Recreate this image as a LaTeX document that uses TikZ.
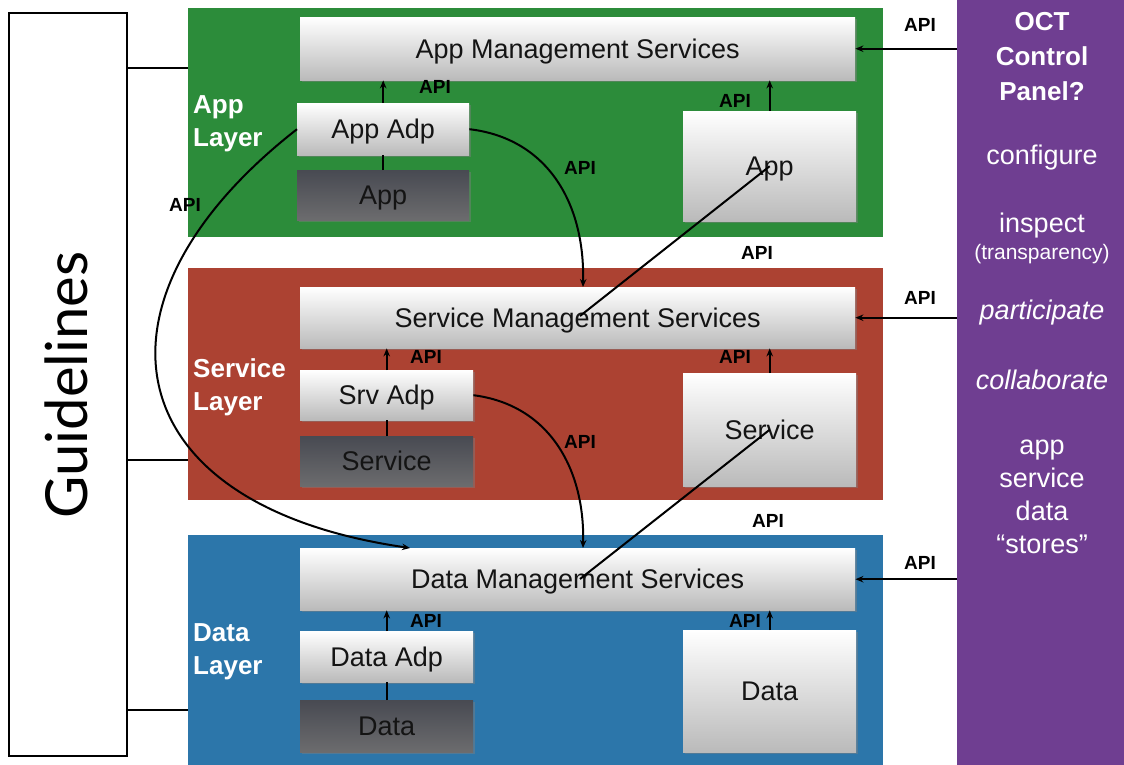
\documentclass[tikz,border=0pt]{standalone}
\usepackage{fontspec}
\setmainfont{Liberation Sans}
\newfontfamily\guidefont{Lato}
\usetikzlibrary{shadows,arrows.meta}

\definecolor{appgreen}{RGB}{44,140,58}
\definecolor{srvred}{RGB}{172,66,50}
\definecolor{datablue}{RGB}{44,118,170}
\definecolor{octpurple}{RGB}{111,62,145}
\definecolor{darktop}{RGB}{72,74,82}
\definecolor{darkbot}{RGB}{108,108,110}
\definecolor{lightbot}{RGB}{186,186,186}
\definecolor{ink}{RGB}{20,20,20}

\tikzset{
  panel/.style={draw=none, inner sep=0pt, anchor=north west},
  lightbox/.style={draw=none, inner sep=0pt, anchor=north west, text depth=0pt,
    top color=white, middle color=white!93!black, bottom color=lightbot,
    drop shadow={shadow xshift=1.5pt, shadow yshift=-1.5pt, opacity=0.45},
    text=ink, font=\fontsize{27}{30}\selectfont},
  darkbox/.style={draw=none, inner sep=0pt, anchor=north west, text depth=0pt,
    top color=darktop, bottom color=darkbot,
    drop shadow={shadow xshift=1.5pt, shadow yshift=-1.5pt, opacity=0.45},
    text=ink, font=\fontsize{27}{30}\selectfont},
  layerlabel/.style={anchor=west, align=left, text=white, inner sep=0pt,
    font=\bfseries\fontsize{26}{33}\selectfont},
  api/.style={inner sep=0pt, text=black, font=\bfseries\fontsize{19}{20}\selectfont},
  octtext/.style={inner sep=0pt, text=white, align=center, font=\fontsize{27}{33}\selectfont},
  link/.style={line width=2pt, -{Stealth[length=8pt,width=6.5pt]}},
  plainlink/.style={line width=2pt},
  tick/.style={line width=1.8pt},
}

\begin{document}
\begin{tikzpicture}[x=1pt, y=-1pt]
\useasboundingbox (0,0) rectangle (1124,765);
\fill[white] (0,0) rectangle (1124,765);

% ---------- guidelines column ----------
\node[draw=black, line width=2pt, inner sep=0pt, anchor=north west,
      minimum width=118pt, minimum height=743pt] (guide) at (8,12) {};
\node[rotate=90, inner sep=0pt, font=\guidefont\fontsize{58}{60}\selectfont] (guidetext) at (66,385) {Guidelines};

% ---------- layer panels ----------
\node[panel, fill=appgreen, minimum width=695pt, minimum height=229pt] (applayer) at (188,8) {};
\node[panel, fill=srvred, minimum width=695pt, minimum height=232pt] (srvlayer) at (188,268) {};
\node[panel, fill=datablue, minimum width=695pt, minimum height=232pt] (datalayer) at (188,535) {};
\node[panel, fill=octpurple, minimum width=167pt, minimum height=765pt] (oct) at (957,0) {};

\node[layerlabel] (applbl) at (193,124) {App\\Layer};
\node[layerlabel] (srvlbl) at (193,387) {Service\\Layer};
\node[layerlabel] (datalbl) at (193,652) {Data\\Layer};

% ticks from the guidelines column to each layer
\draw[tick] (guide.east |- 0,68) -- (applayer.west |- 0,68);
\draw[tick] (guide.east |- 0,460) -- (srvlayer.west |- 0,460);
\draw[tick] (guide.east |- 0,710) -- (datalayer.west |- 0,710);

% ---------- app layer ----------
\node[lightbox, minimum width=555pt, minimum height=63pt] (ams) at (300,17) {App Management Services};
\node[lightbox, minimum width=172pt, minimum height=52pt] (appadp) at (297,103) {App Adp};
\node[darkbox, minimum width=172pt, minimum height=50pt] (appd) at (297,170) {App};
\node[lightbox, minimum width=173pt, minimum height=110pt] (app) at (683,111) {App};

% ---------- service layer ----------
\node[lightbox, minimum width=555pt, minimum height=61pt] (sms) at (300,287) {Service Management Services};
\node[lightbox, minimum width=173pt, minimum height=50pt] (srvadp) at (300,370) {Srv Adp};
\node[darkbox, minimum width=173pt, minimum height=50pt] (srvd) at (300,436) {Service};
\node[lightbox, minimum width=173pt, minimum height=113pt] (srv) at (683,373) {Service};

% ---------- data layer ----------
\node[lightbox, minimum width=555pt, minimum height=62pt] (dms) at (300,548) {Data Management Services};
\node[lightbox, minimum width=173pt, minimum height=51pt] (dataadp) at (300,631) {Data Adp};
\node[darkbox, minimum width=173pt, minimum height=52pt] (datad) at (300,700) {Data};
\node[lightbox, minimum width=173pt, minimum height=122pt] (data) at (683,630) {Data};

% ---------- control panel text ----------
\node[octtext, font=\bfseries\fontsize{26}{35}\selectfont] (octtitle) at (1042,57) {OCT\\Control\\Panel?};
\node[octtext] (configure) at (1042,158) {configure};
\node[octtext] (inspect) at (1042,226) {inspect};
\node[octtext, font=\fontsize{21}{22}\selectfont] (transp) at (1042,254) {(transparency)};
\node[octtext, font=\itshape\fontsize{27}{30}\selectfont] (particip) at (1042,313) {participate};
\node[octtext, font=\itshape\fontsize{27}{30}\selectfont] (collab) at (1042,380) {collaborate};
\node[octtext] (stores) at (1042,497) {app\\service\\data\\``stores''};

% ---------- adapters to management services ----------
\draw[plainlink] (appd.north) -- (appadp.south);
\draw[link] (appadp.north) -- (appadp.north |- ams.south);
\draw[link] (app.north) -- (app.north |- ams.south);
\draw[plainlink] (srvd.north) -- (srvadp.south);
\draw[link] (srvadp.north) -- (srvadp.north |- sms.south);
\draw[link] (srv.north) -- (srv.north |- sms.south);
\draw[plainlink] (datad.north) -- (dataadp.south);
\draw[link] (dataadp.north) -- (dataadp.north |- dms.south);
\draw[link] (data.north) -- (data.north |- dms.south);

\node[api] (apiA1) at (435,87) {API};
\node[api] (apiA2) at (735,101) {API};
\node[api] (apiS1) at (426,357) {API};
\node[api] (apiS2) at (735,357) {API};
\node[api] (apiD1) at (426,621) {API};
\node[api] (apiD2) at (745,621) {API};

% ---------- control panel into each layer ----------
\draw[link] (oct.west |- ams.east) -- (ams.east);
\draw[link] (oct.west |- sms.east) -- (sms.east);
\draw[link] (oct.west |- dms.east) -- (dms.east);
\node[api] (apiO1) at (920,25) {API};
\node[api] (apiO2) at (920,298) {API};
\node[api] (apiO3) at (920,563) {API};

% ---------- cross-layer calls ----------
\coordinate (smsin) at (583,287);
\coordinate (dmsin) at (583,548);
\coordinate (dmsleft) at (410,548);
\coordinate (smshit) at (580,316);
\coordinate (dmshit) at (580,579);

\draw[link] (appadp.east) .. controls (545,138) and (585,200) .. (smsin);
\draw[link] (appadp.west) .. controls (78,300) and (112,505) .. (dmsleft);
\draw[link] (srvadp.east) .. controls (550,405) and (585,470) .. (dmsin);
\draw[plainlink] (app.center) -- (smshit);
\draw[plainlink] (srv.center) -- (dmshit);

\node[api] (apiC1) at (580,168) {API};
\node[api] (apiC2) at (185,205) {API};
\node[api] (apiC3) at (757,253) {API};
\node[api] (apiC4) at (580,442) {API};
\node[api] (apiC5) at (768,521) {API};
\end{tikzpicture}
\end{document}
